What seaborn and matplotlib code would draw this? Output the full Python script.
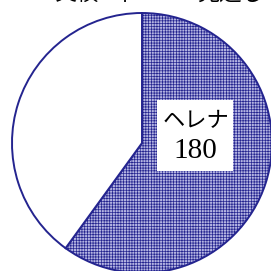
import matplotlib.pyplot as plt
from matplotlib.patches import Rectangle
import seaborn as sns

labels = ["ヘレナ", "その他"]
values = [180, 120]

sns.set_theme(style="white")
plt.rcParams['font.family'] = ['Noto Sans CJK JP', 'DejaVu Sans']
plt.rcParams['hatch.color'] = '#2a2a96'
plt.rcParams['hatch.linewidth'] = 0.5

fig = plt.figure(figsize=(2.71, 2.71), dpi=100)
ax = fig.add_axes([0, 0, 1, 1])

wedges, _ = ax.pie(values, startangle=90, counterclock=False, radius=1,
                   colors=['#b4b4e2', 'white'],
                   wedgeprops=dict(edgecolor='#24248f', linewidth=1.4))
wedges[0].set_hatch('++++++')

ax.set_xlim(-142 / 130, 129 / 130)
ax.set_ylim(-128 / 130, 143 / 130)
ax.set_aspect('auto')
ax.axis('off')

# clipped title at top
ax.text(-0.5, 1.063, "実績", fontsize=16, ha='center', va='bottom', color='black')
ax.text(-0.13, 1.063, "千", fontsize=16, ha='center', va='bottom', color='black')
ax.text(0.68, 1.063, "見通し", fontsize=16, ha='center', va='bottom', color='black')

# label box
ax.add_patch(Rectangle((0.115, -0.215), 0.585, 0.546, facecolor='white',
                       edgecolor='none', zorder=3))
ax.text(0.415, 0.175, labels[0], fontsize=16, ha='center', va='center',
        color='black', zorder=4)
ax.text(0.41, -0.06, str(values[0]), fontsize=21, ha='center', va='center',
        family='Liberation Serif', color='black', zorder=4)

fig.savefig('out.png', dpi=100)
